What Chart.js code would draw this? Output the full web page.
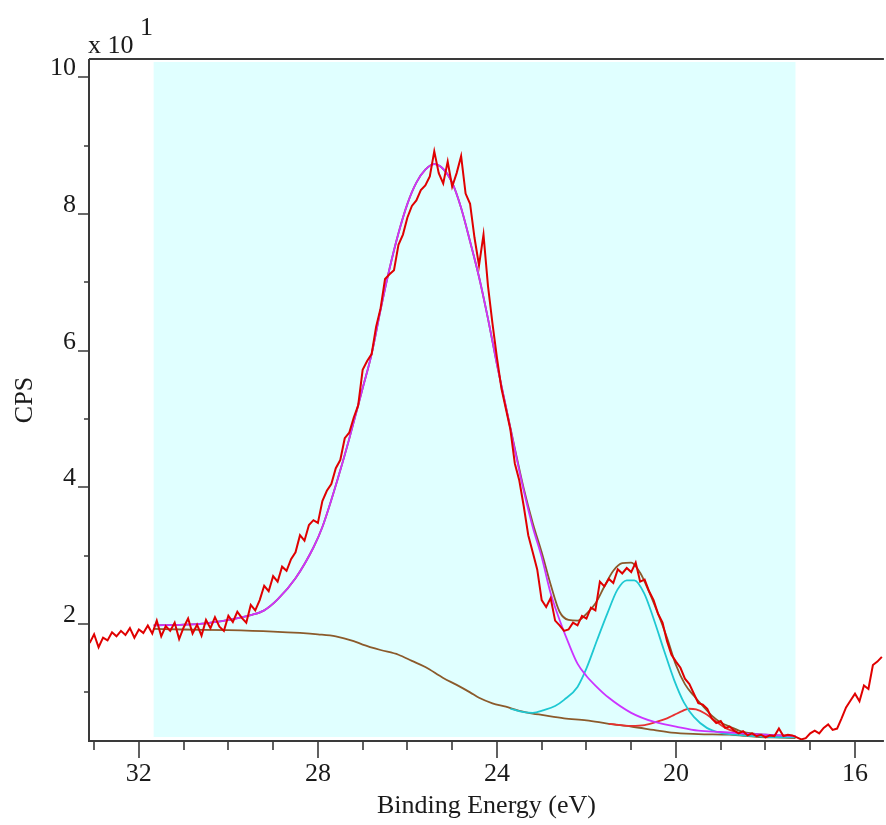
<!DOCTYPE html>
<html lang="en">
<head>
<meta charset="UTF-8">
<title>Binding Energy (eV)</title>
<script src="https://cdn.jsdelivr.net/npm/chart.js"></script>
<style>
    body { margin: 0; background: #fff; }
    .wrap { position: relative; width: 886px; height: 825px; }
</style>
</head>
<body>
<div class="wrap"><canvas id="xps"></canvas></div>
<script>
// measured spectrum: 0.1 eV steps from 33.1 eV down to 15.4 eV, CPS in units of 10
const rawStart = 33.1;
const rawStep = 0.1;
const rawCps = [
    1.72, 1.85, 1.66, 1.80, 1.76, 1.88, 1.82, 1.90, 1.84, 1.94,
    1.80, 1.92, 1.87, 1.98, 1.86, 2.05, 1.82, 1.97, 1.90, 2.02,
    1.78, 1.95, 2.08, 1.86, 1.99, 1.83, 2.06, 1.94, 2.10, 1.96,
    1.90, 2.12, 2.03, 2.18, 2.09, 2.02, 2.28, 2.20, 2.35, 2.56,
    2.48, 2.70, 2.62, 2.84, 2.78, 2.95, 3.05, 3.30, 3.22, 3.45,
    3.52, 3.48, 3.80, 3.95, 4.05, 4.28, 4.40, 4.72, 4.80, 5.02,
    5.20, 5.72, 5.85, 5.95, 6.35, 6.62, 7.05, 7.12, 7.18, 7.55,
    7.70, 7.95, 8.12, 8.20, 8.35, 8.42, 8.55, 8.92, 8.60, 8.45,
    8.77, 8.40, 8.60, 8.85, 8.30, 8.15, 7.65, 7.25, 7.70, 6.95,
    6.40, 5.90, 5.45, 5.15, 4.85, 4.35, 4.10, 3.72, 3.30, 3.05,
    2.80, 2.35, 2.25, 2.38, 2.05, 1.98, 1.90, 1.92, 2.02, 1.98,
    2.12, 2.08, 2.24, 2.20, 2.62, 2.55, 2.66, 2.60, 2.80, 2.74,
    2.82, 2.76, 2.90, 2.62, 2.65, 2.48, 2.35, 2.15, 2.02, 1.75,
    1.55, 1.45, 1.36, 1.20, 1.12, 0.98, 0.84, 0.82, 0.76, 0.62,
    0.55, 0.58, 0.48, 0.50, 0.44, 0.40, 0.43, 0.37, 0.40, 0.36,
    0.38, 0.34, 0.37, 0.36, 0.47, 0.36, 0.38, 0.37, 0.34, 0.31,
    0.33, 0.40, 0.44, 0.40, 0.48, 0.53, 0.45, 0.47, 0.62, 0.78,
    0.88, 0.98, 0.87, 1.10, 1.05, 1.40, 1.45, 1.52
];

// Shirley background
const bgE   = [31.67, 31.0, 30.0, 29.0, 28.4, 28.0, 27.6, 27.2, 27.0, 26.6, 26.2, 25.9, 25.6, 25.2, 24.9, 24.6, 24.4, 24.1, 23.8, 23.5, 23.2, 23.0, 22.5, 22.0, 21.5, 21.0, 20.5, 20.1, 19.5, 18.8, 18.2, 17.8, 17.33];
const bgCps = [1.93, 1.92, 1.91, 1.89, 1.87, 1.85, 1.82, 1.75, 1.70, 1.62, 1.55, 1.46, 1.37, 1.21, 1.11, 1.00, 0.92, 0.84, 0.79, 0.73, 0.69, 0.67, 0.62, 0.59, 0.54, 0.50, 0.45, 0.41, 0.39, 0.38, 0.35, 0.34, 0.33];

// main component (magenta)
const p1E   = [31.67, 31.0, 30.5, 30.0, 29.5, 29.2, 28.9, 28.5, 28.1, 27.9, 27.5, 27.3, 27.0, 26.8, 26.6, 26.4, 26.2, 26.0, 25.8, 25.6, 25.4, 25.2, 25.0, 24.8, 24.6, 24.4, 24.2, 24.0, 23.8, 23.6, 23.4, 23.2, 23.0, 22.8, 22.6, 22.4, 22.2, 22.0, 21.8, 21.5, 21.0, 20.5, 20.0, 19.5, 19.0, 18.5, 18.0, 17.33];
const p1Cps = [1.98, 1.99, 2.01, 2.06, 2.13, 2.20, 2.36, 2.67, 3.12, 3.42, 4.25, 4.71, 5.45, 5.95, 6.60, 7.20, 7.72, 8.15, 8.46, 8.65, 8.73, 8.66, 8.46, 8.09, 7.60, 7.08, 6.47, 5.80, 5.18, 4.55, 3.95, 3.42, 2.98, 2.45, 2.06, 1.72, 1.42, 1.24, 1.10, 0.92, 0.70, 0.57, 0.50, 0.44, 0.42, 0.40, 0.38, 0.36];

// second component (cyan)
const p2E   = [23.7, 23.4, 23.2, 22.95, 22.7, 22.5, 22.2, 22.0, 21.76, 21.53, 21.31, 21.1, 20.93, 20.71, 20.49, 20.27, 20.04, 19.82, 19.6, 19.31, 19.02, 18.5, 18.0, 17.33];
const p2Cps = [0.76, 0.71, 0.70, 0.74, 0.80, 0.89, 1.08, 1.35, 1.77, 2.16, 2.50, 2.64, 2.64, 2.45, 2.06, 1.62, 1.18, 0.85, 0.64, 0.48, 0.41, 0.37, 0.35, 0.34];

// small component (red)
const p3E   = [21.5, 21.0, 20.7, 20.42, 20.2, 20.04, 19.85, 19.71, 19.55, 19.35, 19.16, 18.95, 18.8, 18.5, 18.0, 17.33];
const p3Cps = [0.54, 0.51, 0.52, 0.57, 0.62, 0.67, 0.73, 0.76, 0.75, 0.69, 0.60, 0.50, 0.45, 0.39, 0.36, 0.34];

// fit envelope (brown)
const envE   = [31.67, 31.0, 30.5, 30.0, 29.5, 29.2, 28.9, 28.5, 28.1, 27.9, 27.5, 27.3, 27.0, 26.8, 26.6, 26.4, 26.2, 26.0, 25.8, 25.6, 25.4, 25.2, 25.0, 24.8, 24.6, 24.4, 24.2, 24.0, 23.8, 23.6, 23.4, 23.2, 23.0, 22.8, 22.6, 22.4, 22.2, 22.0, 21.8, 21.6, 21.4, 21.2, 21.0, 20.8, 20.6, 20.4, 20.2, 20.0, 19.8, 19.6, 19.4, 19.2, 19.0, 18.8, 18.5, 18.0, 17.33];
const envCps = [1.98, 1.99, 2.01, 2.06, 2.13, 2.20, 2.36, 2.67, 3.12, 3.42, 4.25, 4.71, 5.45, 5.95, 6.60, 7.20, 7.72, 8.15, 8.46, 8.65, 8.73, 8.66, 8.46, 8.09, 7.60, 7.08, 6.47, 5.80, 5.18, 4.57, 3.98, 3.48, 3.05, 2.58, 2.18, 2.06, 2.05, 2.15, 2.30, 2.55, 2.78, 2.89, 2.90, 2.75, 2.47, 2.15, 1.80, 1.40, 1.12, 0.95, 0.80, 0.66, 0.56, 0.50, 0.42, 0.38, 0.36];

// fit region and axes
const regionE = [31.67, 17.33];
const xMajor = [32, 28, 24, 20, 16];
const xMinor = [33, 31, 30, 29, 27, 26, 25, 23, 22, 21, 19, 18, 17];
const yMajor = [2, 4, 6, 8, 10];
const yMinor = [1, 3, 5, 7, 9];
const xRange = [15.354, 33.114];
const yRange = [0.288, 10.27];

const pairs = (e, v) => e.map((x, i) => ({ x: x, y: v[i] }));
const rawPts = rawCps.map((v, i) => ({ x: +(rawStart - i * rawStep).toFixed(2), y: v }));

const serif = "'Liberation Serif', 'Times New Roman', serif";
const ink = '#1a1a1a';
const axisCol = '#3a3a3a';

Chart.defaults.font.family = serif;
Chart.defaults.font.size = 26;
Chart.defaults.color = ink;

const framePlugin = {
    id: 'frame',
    beforeDatasetsDraw(chart) {
        const { ctx, chartArea: a, scales: { x } } = chart;
        const x1 = x.getPixelForValue(regionE[0]);
        const x2 = x.getPixelForValue(regionE[1]);
        ctx.save();
        ctx.fillStyle = '#e0ffff';
        ctx.fillRect(x1, a.top + 3, x2 - x1, a.bottom - a.top - 7);
        ctx.restore();
    },
    afterDraw(chart) {
        const { ctx, chartArea: a, scales: { x, y } } = chart;
        ctx.save();
        ctx.strokeStyle = axisCol;
        ctx.lineWidth = 2;
        ctx.beginPath();
        ctx.moveTo(a.left, a.top); ctx.lineTo(a.right, a.top);
        ctx.moveTo(a.left, a.top); ctx.lineTo(a.left, a.bottom);
        ctx.moveTo(a.left - 1, a.bottom); ctx.lineTo(a.right, a.bottom);
        ctx.stroke();

        ctx.lineWidth = 1.6;
        ctx.beginPath();
        xMajor.forEach(v => { const px = Math.round(x.getPixelForValue(v)); ctx.moveTo(px, a.bottom); ctx.lineTo(px, a.bottom + 17); });
        xMinor.forEach(v => { const px = Math.round(x.getPixelForValue(v)); ctx.moveTo(px, a.bottom); ctx.lineTo(px, a.bottom + 9); });
        yMajor.forEach(v => { const py = Math.round(y.getPixelForValue(v)); ctx.moveTo(a.left, py); ctx.lineTo(a.left - 11, py); });
        yMinor.forEach(v => { const py = Math.round(y.getPixelForValue(v)); ctx.moveTo(a.left, py); ctx.lineTo(a.left - 5, py); });
        ctx.stroke();

        // multiplier label
        ctx.fillStyle = ink;
        ctx.font = '26px ' + serif;
        ctx.textBaseline = 'alphabetic';
        ctx.fillText('x 10', 88, 53);
        ctx.fillText('1', 140, 35);
        ctx.restore();
    }
};

const line = (data, color, width, smooth) => ({
    data: data,
    borderColor: color,
    borderWidth: width,
    pointRadius: 0,
    fill: false,
    tension: smooth ? 0.4 : 0,
    cubicInterpolationMode: smooth ? 'monotone' : 'default'
});

new Chart(document.getElementById('xps'), {
    type: 'line',
    data: {
        datasets: [
            line(rawPts, '#e00000', 2, false),
            line(pairs(p1E, p1Cps), '#cc33ff', 1.8, true),
            line(pairs(p2E, p2Cps), '#1ec8d2', 1.8, true),
            line(pairs(p3E, p3Cps), '#e83030', 1.8, true),
            line(pairs(envE, envCps), '#8b5a2b', 1.8, true),
            line(pairs(bgE, bgCps), '#8b5a2b', 1.8, true)
        ]
    },
    options: {
        responsive: true,
        maintainAspectRatio: false,
        animation: false,
        layout: { padding: { top: 59, right: 0, left: 0, bottom: 0 } },
        plugins: { legend: { display: false }, tooltip: { enabled: false } },
        scales: {
            x: {
                type: 'linear',
                reverse: true,
                min: xRange[0],
                max: xRange[1],
                afterBuildTicks: s => { s.ticks = xMajor.map(v => ({ value: v })); },
                afterFit: s => { s.height = 84; },
                grid: { display: false, drawTicks: false },
                border: { display: false },
                ticks: { padding: 18, maxRotation: 0 },
                title: { display: true, text: 'Binding Energy (eV)', padding: { top: 0, bottom: 3 } }
            },
            y: {
                min: yRange[0],
                max: yRange[1],
                afterBuildTicks: s => { s.ticks = yMajor.map(v => ({ value: v })); },
                afterFit: s => { s.width = 89; },
                grid: { display: false, drawTicks: false },
                border: { display: false },
                ticks: { padding: 13, labelOffset: -9 },
                title: { display: true, text: 'CPS', padding: { top: 10, bottom: 0 } }
            }
        }
    },
    plugins: [framePlugin]
});
</script>
</body>
</html>
